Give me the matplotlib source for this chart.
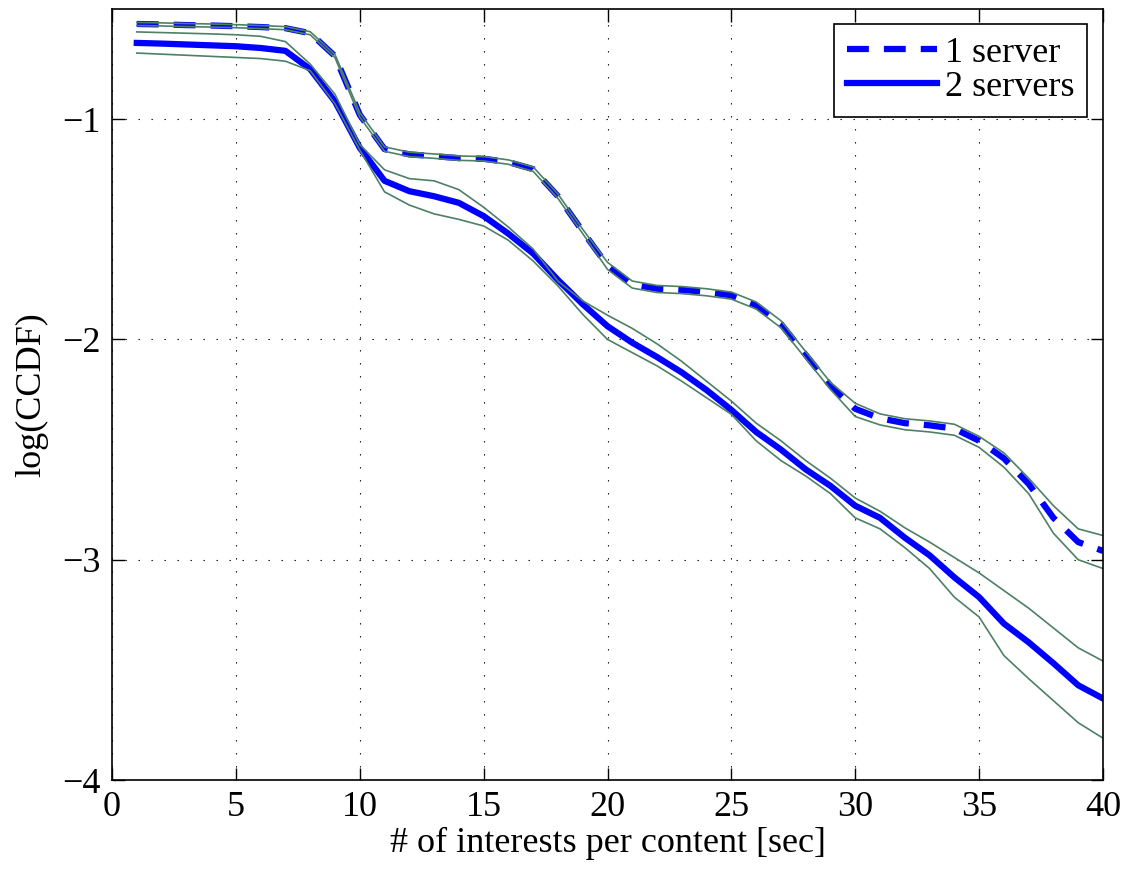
import numpy as np
import matplotlib
matplotlib.use('Agg')
import matplotlib.pyplot as plt

# DATA
x = list(range(1, 41))

s1_mean = [-0.568, -0.570, -0.573, -0.575, -0.578, -0.582, -0.587, -0.610, -0.714, -0.98,
           -1.136, -1.16, -1.168, -1.177, -1.18, -1.195, -1.227, -1.35, -1.51, -1.665,
           -1.75, -1.77, -1.775, -1.785, -1.80, -1.845, -1.93, -2.07, -2.21, -2.315,
           -2.358, -2.38, -2.39, -2.405, -2.46, -2.54, -2.656, -2.81, -2.92, -2.96]
s1_hi = [-0.561, -0.563, -0.566, -0.568, -0.571, -0.575, -0.580, -0.603, -0.707, -0.97,
         -1.126, -1.15, -1.158, -1.167, -1.17, -1.185, -1.217, -1.34, -1.50, -1.65,
         -1.735, -1.755, -1.76, -1.77, -1.785, -1.83, -1.915, -2.055, -2.195, -2.29,
         -2.338, -2.36, -2.37, -2.385, -2.44, -2.515, -2.63, -2.755, -2.86, -2.89]
s1_lo = [-0.575, -0.577, -0.580, -0.582, -0.585, -0.589, -0.594, -0.617, -0.721, -0.99,
         -1.146, -1.17, -1.178, -1.187, -1.19, -1.205, -1.237, -1.36, -1.52, -1.682,
         -1.767, -1.787, -1.792, -1.802, -1.817, -1.862, -1.947, -2.087, -2.227, -2.35,
         -2.388, -2.41, -2.42, -2.435, -2.49, -2.58, -2.70, -2.88, -3.00, -3.04]

s2_mean = [-0.654, -0.657, -0.661, -0.665, -0.669, -0.677, -0.69, -0.773, -0.92, -1.13,
           -1.28, -1.327, -1.35, -1.38, -1.44, -1.52, -1.61, -1.73, -1.84, -1.94,
           -2.015, -2.08, -2.15, -2.23, -2.32, -2.42, -2.50, -2.59, -2.665, -2.755,
           -2.81, -2.90, -2.98, -3.08, -3.17, -3.29, -3.375, -3.47, -3.57, -3.63]
s2_hi = [-0.604, -0.607, -0.61, -0.613, -0.617, -0.624, -0.648, -0.75, -0.887, -1.115,
         -1.23, -1.27, -1.28, -1.32, -1.40, -1.49, -1.59, -1.735, -1.825, -1.89,
         -1.95, -2.02, -2.10, -2.19, -2.28, -2.38, -2.46, -2.55, -2.63, -2.72,
         -2.78, -2.855, -2.92, -2.99, -3.06, -3.14, -3.22, -3.31, -3.40, -3.46]
s2_lo = [-0.70, -0.705, -0.71, -0.715, -0.72, -0.725, -0.737, -0.78, -0.93, -1.14,
         -1.33, -1.39, -1.43, -1.455, -1.485, -1.55, -1.644, -1.757, -1.886, -2.0,
         -2.06, -2.12, -2.19, -2.265, -2.34, -2.46, -2.55, -2.62, -2.70, -2.81,
         -2.86, -2.945, -3.04, -3.17, -3.26, -3.435, -3.54, -3.64, -3.74, -3.81]

labels = ['1 server', '2 servers']

#FONT
plt.rcParams['font.family'] = ['Liberation Serif', 'DejaVu Serif']
plt.rcParams['font.size'] = 26

blue = '#0000ff'
green = '#4d8066'

fig = plt.figure(figsize=(11.28, 8.71), dpi=100)
ax = fig.add_axes([112/1128, 1 - 780/871, (1103-112)/1128, (780-9)/871])

ax.plot(x, s1_mean, color=blue, linewidth=4.5, dashes=(3.5, 2.4), label=labels[0])
ax.plot(x, s2_mean, color=blue, linewidth=4.5, label=labels[1])
for band in (s1_hi, s1_lo, s2_hi, s2_lo):
    ax.plot(x, band, color=green, linewidth=1.2)

ax.set_xlim(0, 40)
ax.set_ylim(-4, -0.5)
ax.set_xticks(np.arange(0, 41, 5))
ax.set_yticks([-4, -3, -2, -1])

ax.grid(True, color='black', linewidth=0.8, linestyle=(0, (1.2, 10.5)))
ax.tick_params(direction='in', length=9, width=1, top=True, right=True, pad=8)
for s in ax.spines.values():
    s.set_linewidth(1.2)

ax.set_xlabel('# of interests per content [sec]', labelpad=2)
ax.set_ylabel('log(CCDF)', labelpad=10)

leg = ax.legend(loc='upper right', bbox_to_anchor=(0.984, 0.981), fancybox=False,
                edgecolor='black', framealpha=1, handlelength=2.5, handletextpad=0.2,
                borderpad=0.36, labelspacing=0.02, borderaxespad=0)
leg.get_frame().set_linewidth(1.2)

plt.savefig('out.png', dpi=100)
